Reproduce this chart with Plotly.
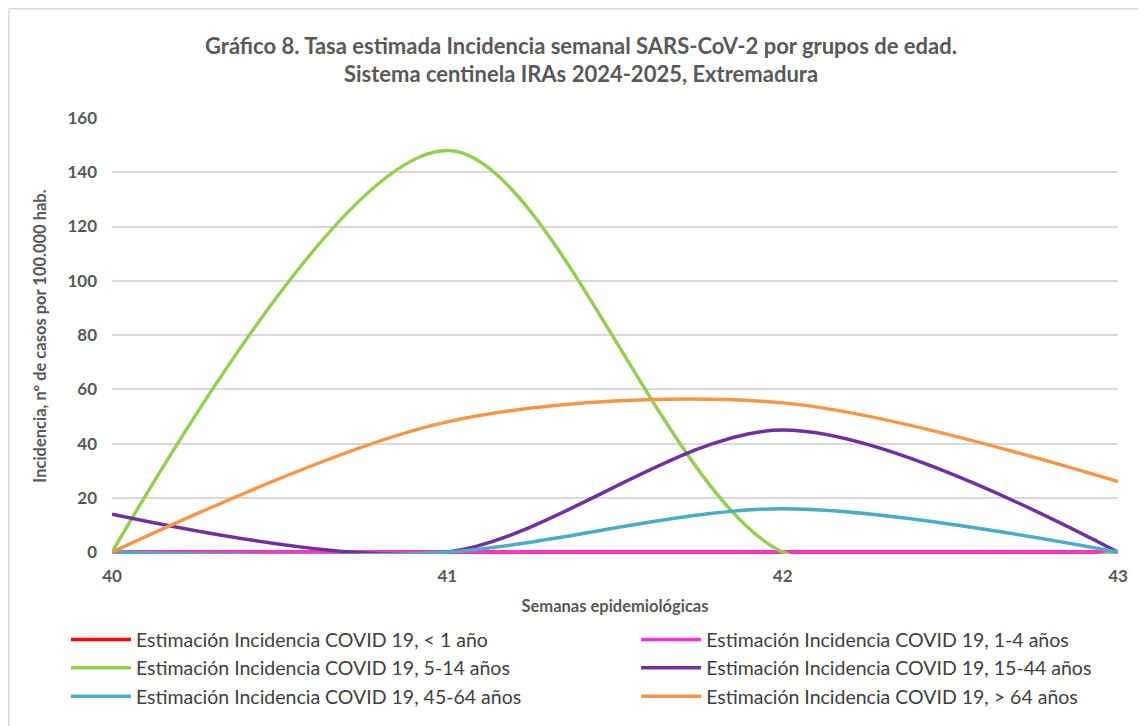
import plotly.graph_objects as go

weeks = [40, 41, 42, 43]
series_names = [
    "Estimación Incidencia COVID 19, < 1 año",
    "Estimación Incidencia COVID 19, 1-4 años",
    "Estimación Incidencia COVID 19, 5-14 años",
    "Estimación Incidencia COVID 19, 15-44 años",
    "Estimación Incidencia COVID 19, 45-64 años",
    "Estimación Incidencia COVID 19, > 64 años",
]
menor_1 = [0, 0, 0, 0]
edad_1_4 = [0, 0, 0, 0]
edad_5_14 = [0, 148, 0, 0]
edad_15_44 = [14, 0, 45, 0]
edad_45_64 = [0, 0, 16, 0]
mayor_64 = [0, 48, 55, 26]
colors = ["#FF0000", "#FF33CC", "#92D050", "#7030A0", "#4BACC6", "#F79646"]
legend_col = ["legend", "legend2", "legend", "legend2", "legend", "legend2"]

font_family = "Lato, 'Open Sans', sans-serif"
txt = "#595959"

fig = go.Figure()
for name, vals, col, lg in zip(series_names,
                               [menor_1, edad_1_4, edad_5_14, edad_15_44, edad_45_64, mayor_64],
                               colors, legend_col):
    fig.add_trace(go.Scatter(x=weeks, y=vals, name=name, mode="lines", legend=lg,
                             line=dict(color=col, width=3.5, shape="spline", smoothing=0.9)))

legend_common = dict(
    orientation="v", yanchor="top", xanchor="left",
    font=dict(size=19.5, color="#404040", family=font_family),
    tracegroupgap=0, itemwidth=60, bgcolor="rgba(0,0,0,0)",
)

fig.update_layout(
    width=1146, height=726,
    paper_bgcolor="white", plot_bgcolor="white",
    margin=dict(l=104, r=36, t=110, b=180, autoexpand=False),
    font=dict(family=font_family, color=txt),
    title=dict(
        text="<b>Gráfico 8. Tasa estimada Incidencia semanal SARS-CoV-2 por grupos de edad.<br>Sistema centinela IRAs 2024-2025, Extremadura</b>",
        x=0.5, xanchor="center", y=0.937, yanchor="top",
        font=dict(size=22, color=txt, family=font_family),
    ),
    xaxis=dict(
        range=[40, 43], tickvals=weeks, ticktext=[str(w) for w in weeks],
        showgrid=False, zeroline=False, showline=False,
        tickfont=dict(size=17, color=txt, family=font_family, weight="bold"),
        ticklabelstandoff=10,
        title=dict(text="<b>Semanas epidemiológicas</b>", font=dict(size=16.5, color=txt), standoff=15),
        ticks="", ticklen=0,
    ),
    yaxis=dict(
        range=[-0.7, 160], tickvals=[0, 20, 40, 60, 80, 100, 120, 140, 160],
        showgrid=True, gridcolor="#D9D9D9", gridwidth=1.5,
        zeroline=False, showline=False, ticks="",
        tickfont=dict(size=17, color=txt, family=font_family, weight="bold"),
        ticklabelstandoff=14,
        title=dict(text="<b>Incidencia, nº de casos por 100.000 hab.</b>", font=dict(size=16.5, color=txt), standoff=16),
    ),
    legend=dict(x=-0.0458, y=-0.152, **legend_common),
    legend2=dict(x=0.521, y=-0.152, **legend_common),
    shapes=[
        dict(type="line", xref="paper", yref="paper",
             x0=-0.1026, x1=1.0358, y0=1.2506, y1=1.2506,
             line=dict(color="#D9D9D9", width=1.5)),
        dict(type="line", xref="paper", yref="paper",
             x0=-0.1026, x1=-0.1026, y0=-0.4128, y1=1.2506,
             line=dict(color="#D9D9D9", width=1.5)),
    ],
)

fig.write_html("out.html")
